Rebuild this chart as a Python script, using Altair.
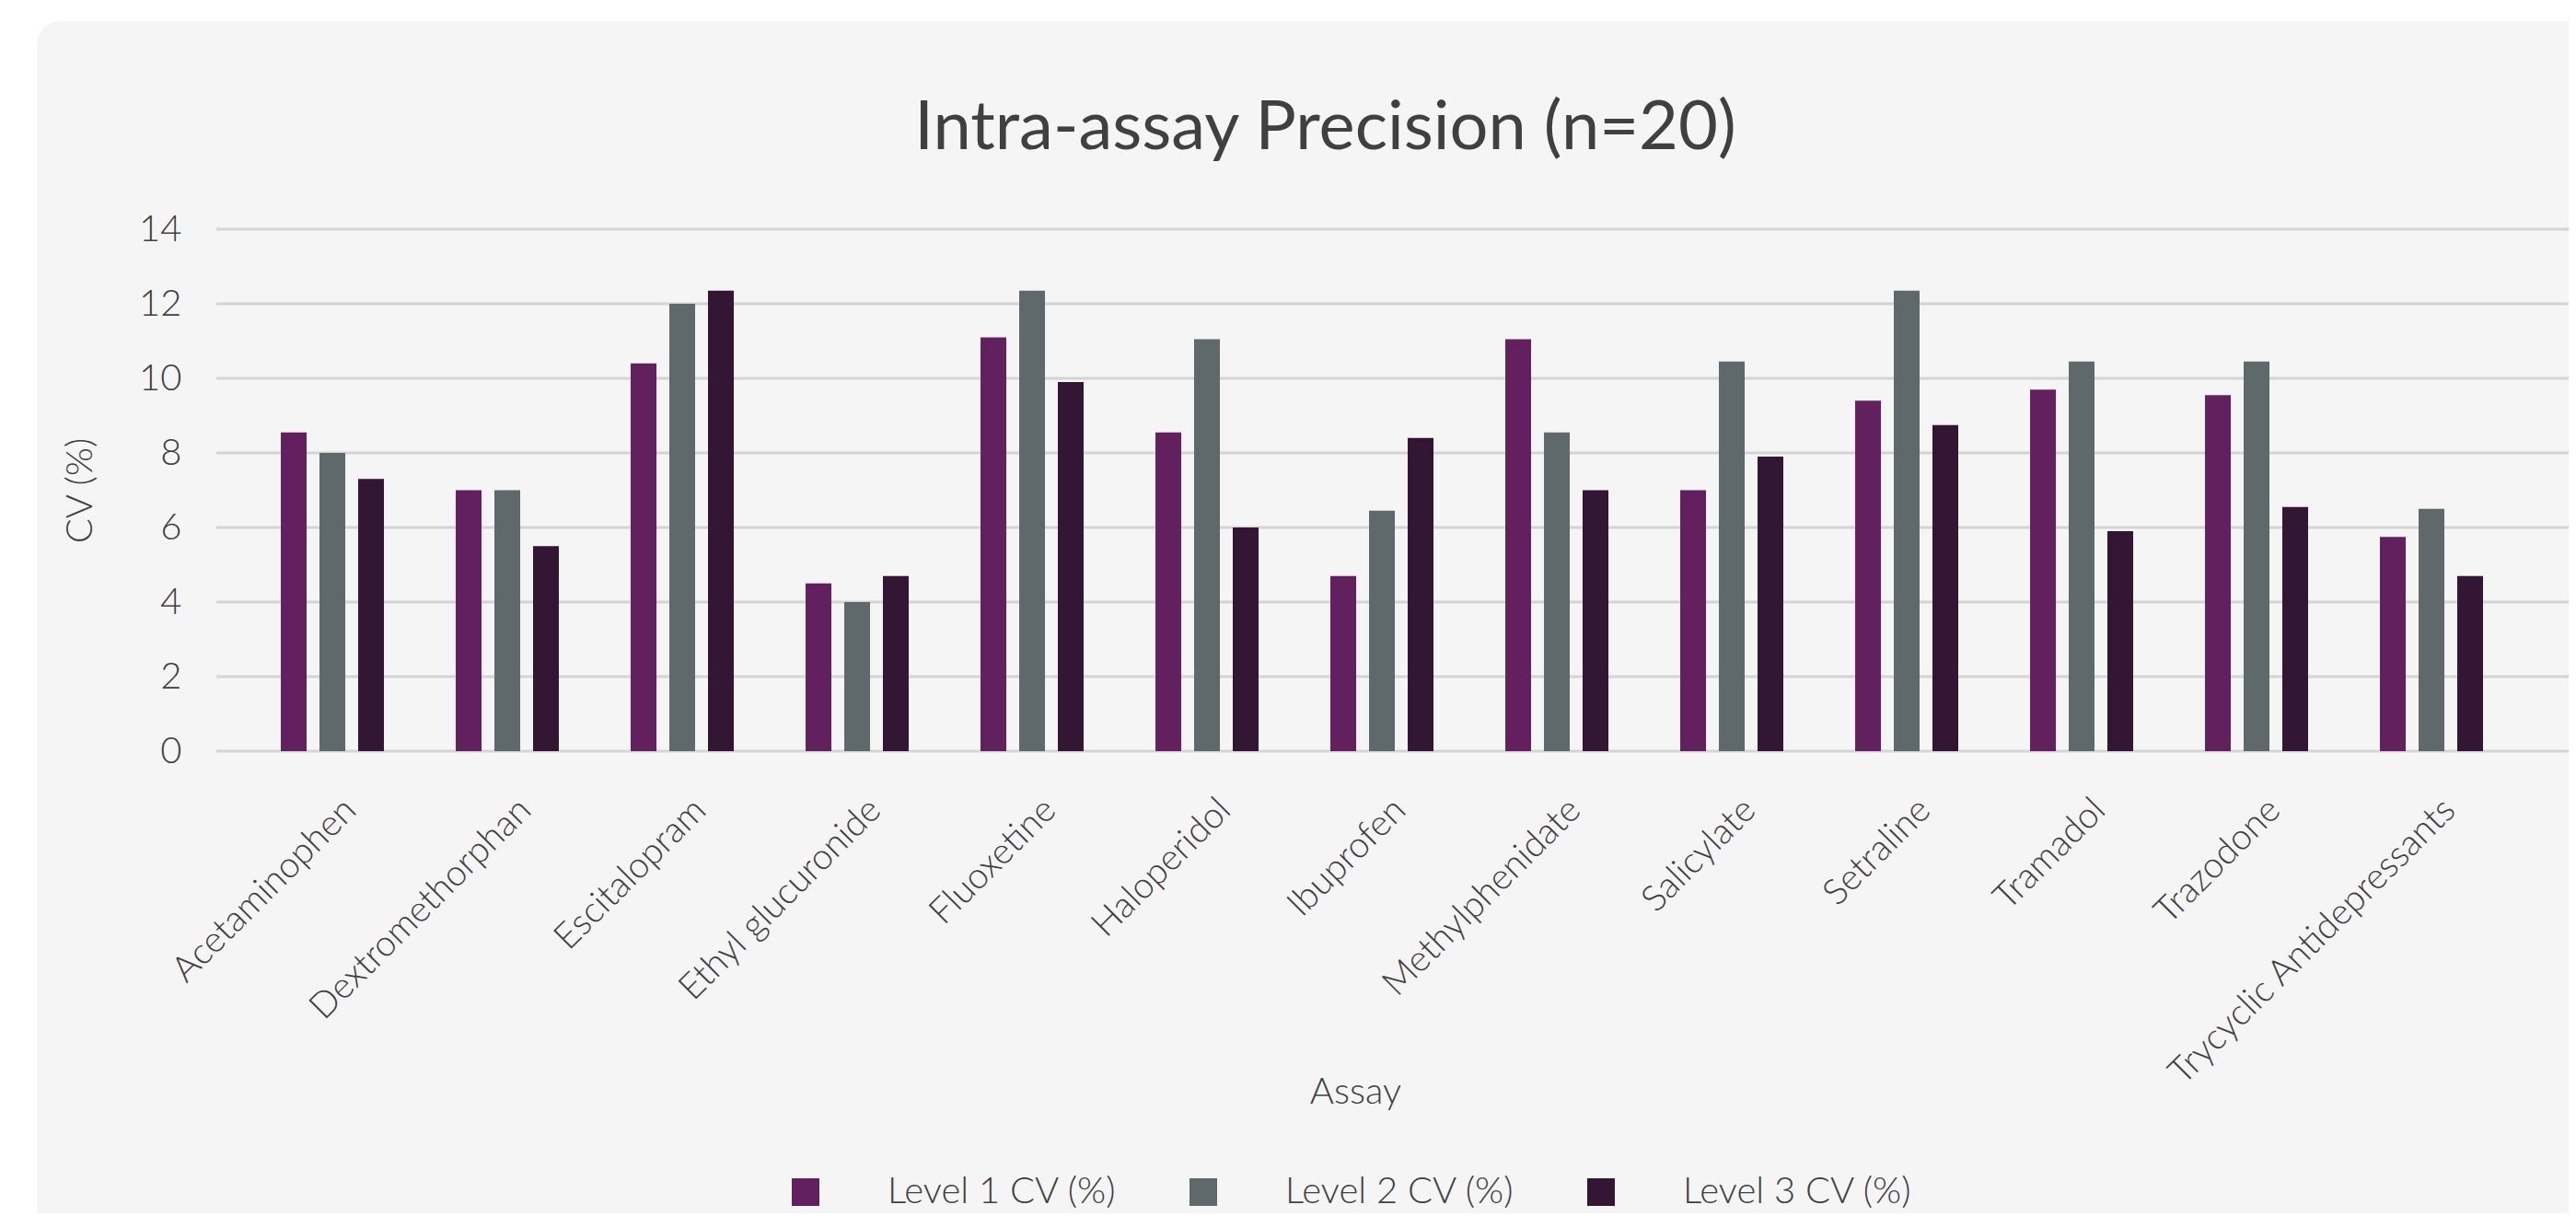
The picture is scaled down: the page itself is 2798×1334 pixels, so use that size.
import altair as alt
import pandas as pd

# ---- data ----
assays = ["Acetaminophen", "Dextromethorphan", "Escitalopram", "Ethyl glucuronide",
          "Fluoxetine", "Haloperidol", "Ibuprofen", "Methylphenidate", "Salicylate",
          "Setraline", "Tramadol", "Trazodone", "Trycyclic Antidepressants"]
level_names = ["Level 1 CV (%)", "Level 2 CV (%)", "Level 3 CV (%)"]
level1 = [8.55, 7.0, 10.4, 4.5, 11.1, 8.55, 4.7, 11.05, 7.0, 9.4, 9.7, 9.55, 5.75]
level2 = [8.0, 7.0, 12.0, 4.0, 12.35, 11.05, 6.45, 8.55, 10.45, 12.35, 10.45, 10.45, 6.5]
level3 = [7.3, 5.5, 12.35, 4.7, 9.9, 6.0, 8.4, 7.0, 7.9, 8.75, 5.9, 6.55, 4.7]
y_ticks = [0, 2, 4, 6, 8, 10, 12, 14]
colors = ["#63205F", "#5F686A", "#331634"]

rows = []
for i, a in enumerate(assays):
    for name, vals in zip(level_names, [level1, level2, level3]):
        rows.append({"Assay": a, "Level": name, "CV": vals[i]})
df = pd.DataFrame(rows)

W, H = 2555, 567
FONT = "Lato"
TEXT = "#404040"

y_axis = alt.Axis(values=y_ticks, title="CV (%)", grid=False, domain=False, ticks=False,
                  labelPadding=38, labelFontSize=40, labelFont=FONT, labelColor=TEXT,
                  labelFontWeight=300, zindex=1,
                  titleFontSize=40, titleFont=FONT, titleColor=TEXT, titleFontWeight=300,
                  titleX=-148, titleY=H / 2, titleBaseline="middle", titleAlign="center")
y_scale = alt.Scale(domain=[0, 14], nice=False, zero=True)

panel = alt.Chart(pd.DataFrame({"p": [1]})).mark_rect(
    color="#f5f5f5", cornerRadius=26).encode(
    x=alt.value(-195), x2=alt.value(W + 20), y=alt.value(-226), y2=alt.value(1200))

grid = alt.Chart(pd.DataFrame({"CV": y_ticks})).mark_rule(
    color="#d4d4d4", strokeWidth=3).encode(
    y=alt.Y("CV:Q", scale=y_scale, axis=y_axis),
    x=alt.value(0), x2=alt.value(W))

bars = alt.Chart(df).mark_bar().encode(
    x=alt.X("Assay:N", sort=assays,
            scale=alt.Scale(paddingInner=0, paddingOuter=0.2237, align=0.365),
            axis=alt.Axis(title="Assay", labelAngle=-45, domain=False, ticks=False,
                          tickSize=0, labelPadding=44, labelOffset=6, labelFontSize=39,
                          labelFont=FONT, labelColor=TEXT, labelFontWeight=300,
                          labelLimit=800, zindex=1,
                          titleX=1237, titleY=370, titleBaseline="middle",
                          titleAlign="center", titleFontSize=40, titleFont=FONT,
                          titleColor=TEXT, titleFontWeight=300)),
    xOffset=alt.XOffset("Level:N", sort=level_names,
                        scale=alt.Scale(paddingInner=0.333, paddingOuter=0.929)),
    y=alt.Y("CV:Q", scale=y_scale, axis=y_axis),
    color=alt.Color("Level:N", sort=level_names,
                    scale=alt.Scale(domain=level_names, range=colors),
                    legend=alt.Legend(orient="none", legendX=620, legendY=1026,
                                      direction="horizontal", columns=3, title=None,
                                      symbolType="square", symbolSize=900,
                                      symbolStrokeWidth=0, symbolOpacity=1,
                                      labelFontSize=40, labelFont=FONT, labelColor=TEXT,
                                      labelFontWeight=300, labelOffset=69,
                                      columnPadding=74, labelLimit=600)),
)

chart = alt.layer(panel, grid, bars).properties(
    width=W, height=H,
    title=alt.TitleParams("Intra-assay Precision (n=20)", font=FONT, fontSize=74,
                          fontWeight="normal", color=TEXT, anchor="middle",
                          dx=-73, offset=-213, baseline="alphabetic"),
    autosize=alt.AutoSizeParams(type="none"),
    padding={"left": 227, "top": 241, "right": 0, "bottom": 502},
).configure_view(stroke=None).configure(background="white")

chart.save("out.html", embed_options={"renderer": "svg", "actions": False})
